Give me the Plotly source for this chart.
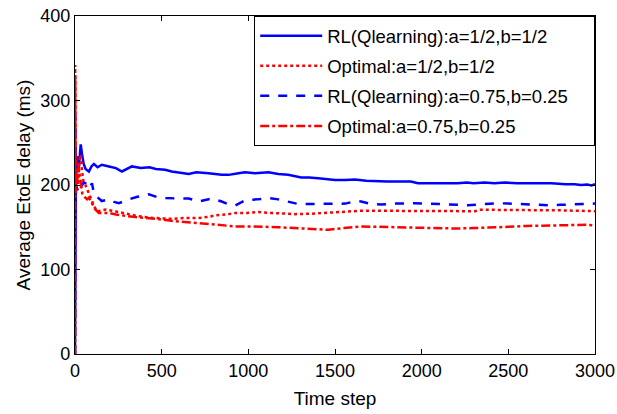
import plotly.graph_objects as go

# RL(Qlearning): a=1/2, b=1/2  (solid blue)
t_rl1 = [0, 1, 3, 5, 8, 13, 20, 27, 33, 40, 50, 61, 80, 95, 109, 130, 155, 196, 236, 271, 300, 328, 380, 430, 466, 520, 558, 600, 656, 700, 771, 846, 886, 943, 980, 1040, 1116, 1173, 1230, 1305, 1350, 1403, 1450, 1500, 1560, 1615, 1680, 1748, 1800, 1860, 1938, 1978, 2050, 2110, 2208, 2260, 2300, 2363, 2420, 2478, 2550, 2650, 2750, 2830, 2881, 2920, 2955, 2980, 3000]
v_rl1 = [0, 200, 175, 213, 230, 234, 215, 240, 248, 237, 225, 219, 216, 222, 225, 221, 224, 222, 220, 216, 219, 222, 220, 221, 219, 218, 216, 215, 213, 215, 214, 212, 212, 214, 215, 214, 215, 213, 212, 209, 209, 208, 207, 206, 206, 206.5, 205, 204, 204, 204, 204, 202, 202, 202, 202, 203, 202, 203, 202, 203, 202, 202, 202, 201, 201, 200, 200.5, 199.5, 201]

# Optimal: a=1/2, b=1/2  (dotted red)
t_opt1 = [0, 1, 2, 3, 5, 8, 12, 18, 25, 33, 40, 48, 60, 80, 98, 110, 127, 150, 178, 236, 300, 368, 450, 558, 640, 713, 760, 811, 870, 926, 990, 1058, 1130, 1200, 1271, 1360, 1461, 1550, 1650, 1750, 1850, 1961, 2050, 2150, 2250, 2306, 2340, 2450, 2550, 2685, 2800, 2900, 3000]
v_opt1 = [0, 342, 300, 250, 220, 205, 225, 200, 230, 236, 218, 205, 200, 189, 180.5, 175, 168.7, 170, 171, 168.7, 166, 163, 161, 160, 161, 161, 162, 164, 165, 167, 167, 168, 167, 166, 165.5, 166, 167, 168, 169.5, 169.5, 169.5, 169.5, 169, 168.7, 168.7, 169, 170.7, 170.7, 170.5, 170.7, 170, 169.5, 169]

# RL(Qlearning): a=0.75, b=0.25  (dashed blue)
t_rl2 = [0, 1, 2, 3, 5, 8, 15, 23, 35, 50, 61, 80, 98, 109, 127, 155, 196, 225, 253, 280, 311, 360, 426, 470, 523, 600, 656, 713, 788, 846, 886, 926, 960, 984, 1050, 1116, 1173, 1230, 1288, 1350, 1400, 1461, 1560, 1620, 1650, 1700, 1765, 1850, 1920, 1961, 2040, 2110, 2200, 2266, 2340, 2438, 2500, 2570, 2650, 2743, 2800, 2881, 2950, 3000]
v_rl2 = [0, 283, 220, 170, 205, 198, 195, 190, 198, 203, 202, 196, 202, 190, 186, 181, 183, 180, 178.5, 181, 183, 186, 189, 186, 184.5, 184, 184, 180.5, 184, 180.5, 177, 176, 180, 182, 183, 184.5, 183, 180, 177.5, 177.5, 177.5, 177.5, 178, 181, 180.5, 178, 177, 178, 178.5, 178.5, 178, 177.5, 177, 176, 177, 178.5, 178, 177.5, 177, 176, 176.5, 177, 177.5, 178]

# Optimal: a=0.75, b=0.25  (dash-dot red)
t_opt2 = [0, 1, 2, 3, 5, 8, 12, 18, 25, 33, 42, 55, 70, 80, 98, 117, 138, 155, 196, 236, 271, 350, 466, 520, 581, 650, 713, 800, 870, 926, 984, 1050, 1100, 1173, 1250, 1350, 1461, 1550, 1650, 1750, 1850, 1961, 2050, 2110, 2200, 2300, 2400, 2500, 2600, 2668, 2750, 2850, 2950, 3000]
v_opt2 = [0, 330, 260, 210, 190, 215, 200, 225, 215, 205, 190, 186, 183, 185, 178.5, 171, 167, 167, 167, 165, 164, 162, 160, 158.5, 157, 156, 155, 153.5, 152, 151, 151, 151, 150.5, 150, 149, 148, 147, 149, 151, 150.5, 150, 150, 149.5, 148.5, 148.5, 149, 149.5, 150.5, 151.5, 152, 152.5, 152.5, 153, 152]

names = ["RL(Qlearning):a=1/2,b=1/2", "Optimal:a=1/2,b=1/2",
         "RL(Qlearning):a=0.75,b=0.25\u00a0\u00a0\u00a0\u00a0", "Optimal:a=0.75,b=0.25"]
x_ticks = [0, 500, 1000, 1500, 2000, 2500, 3000]
y_ticks = [0, 100, 200, 300, 400]

BLUE = "rgb(0,0,255)"
RED = "rgb(255,0,0)"
FONT = "Liberation Sans, Arial, Helvetica, sans-serif"

fig = go.Figure()
series = [
    (t_rl1, v_rl1, names[0], BLUE, "solid"),
    (t_opt1, v_opt1, names[1], RED, "dot"),
    (t_rl2, v_rl2, names[2], BLUE, "dash"),
    (t_opt2, v_opt2, names[3], RED, "dashdot"),
]
for i, (t, v, n, c, d) in enumerate(series):
    fig.add_trace(go.Scatter(x=t, y=v, mode="lines", name=n, legendgroup=f"g{i}",
                             line=dict(color=c, width=2.5, dash=d)))

axis_common = dict(showline=True, linecolor="black", linewidth=1.2, mirror="allticks",
                   ticks="inside", ticklen=5, tickcolor="black", tickwidth=1,
                   showgrid=False, zeroline=False, automargin=False,
                   ticklabeloverflow="allow",
                   tickfont=dict(family=FONT, size=18, color="black"))

fig.update_layout(
    width=617, height=414,
    margin=dict(l=75, r=22, t=16, b=60),
    paper_bgcolor="white", plot_bgcolor="white",
    font=dict(family=FONT, color="black"),
    xaxis=dict(range=[0, 3000], tickvals=x_ticks,
               title=dict(text="Time step", font=dict(family=FONT, size=19), standoff=11),
               **axis_common),
    yaxis=dict(range=[0, 400], tickvals=y_ticks,
               title=dict(text="Average EtoE delay (ms)", font=dict(family=FONT, size=19), standoff=4),
               **axis_common),
    legend=dict(x=1, y=1, xanchor="right", yanchor="top",
                bgcolor="white", bordercolor="black", borderwidth=1.2,
                font=dict(family=FONT, size=18.5, color="black"),
                traceorder="grouped", tracegroupgap=3, itemwidth=62),
    showlegend=True,
)

# remove the default 8px page margin so the figure sits at the window's top-left corner
fig.write_html("out.html", config={"displayModeBar": False},
               post_script="document.body.style.margin='0';")
